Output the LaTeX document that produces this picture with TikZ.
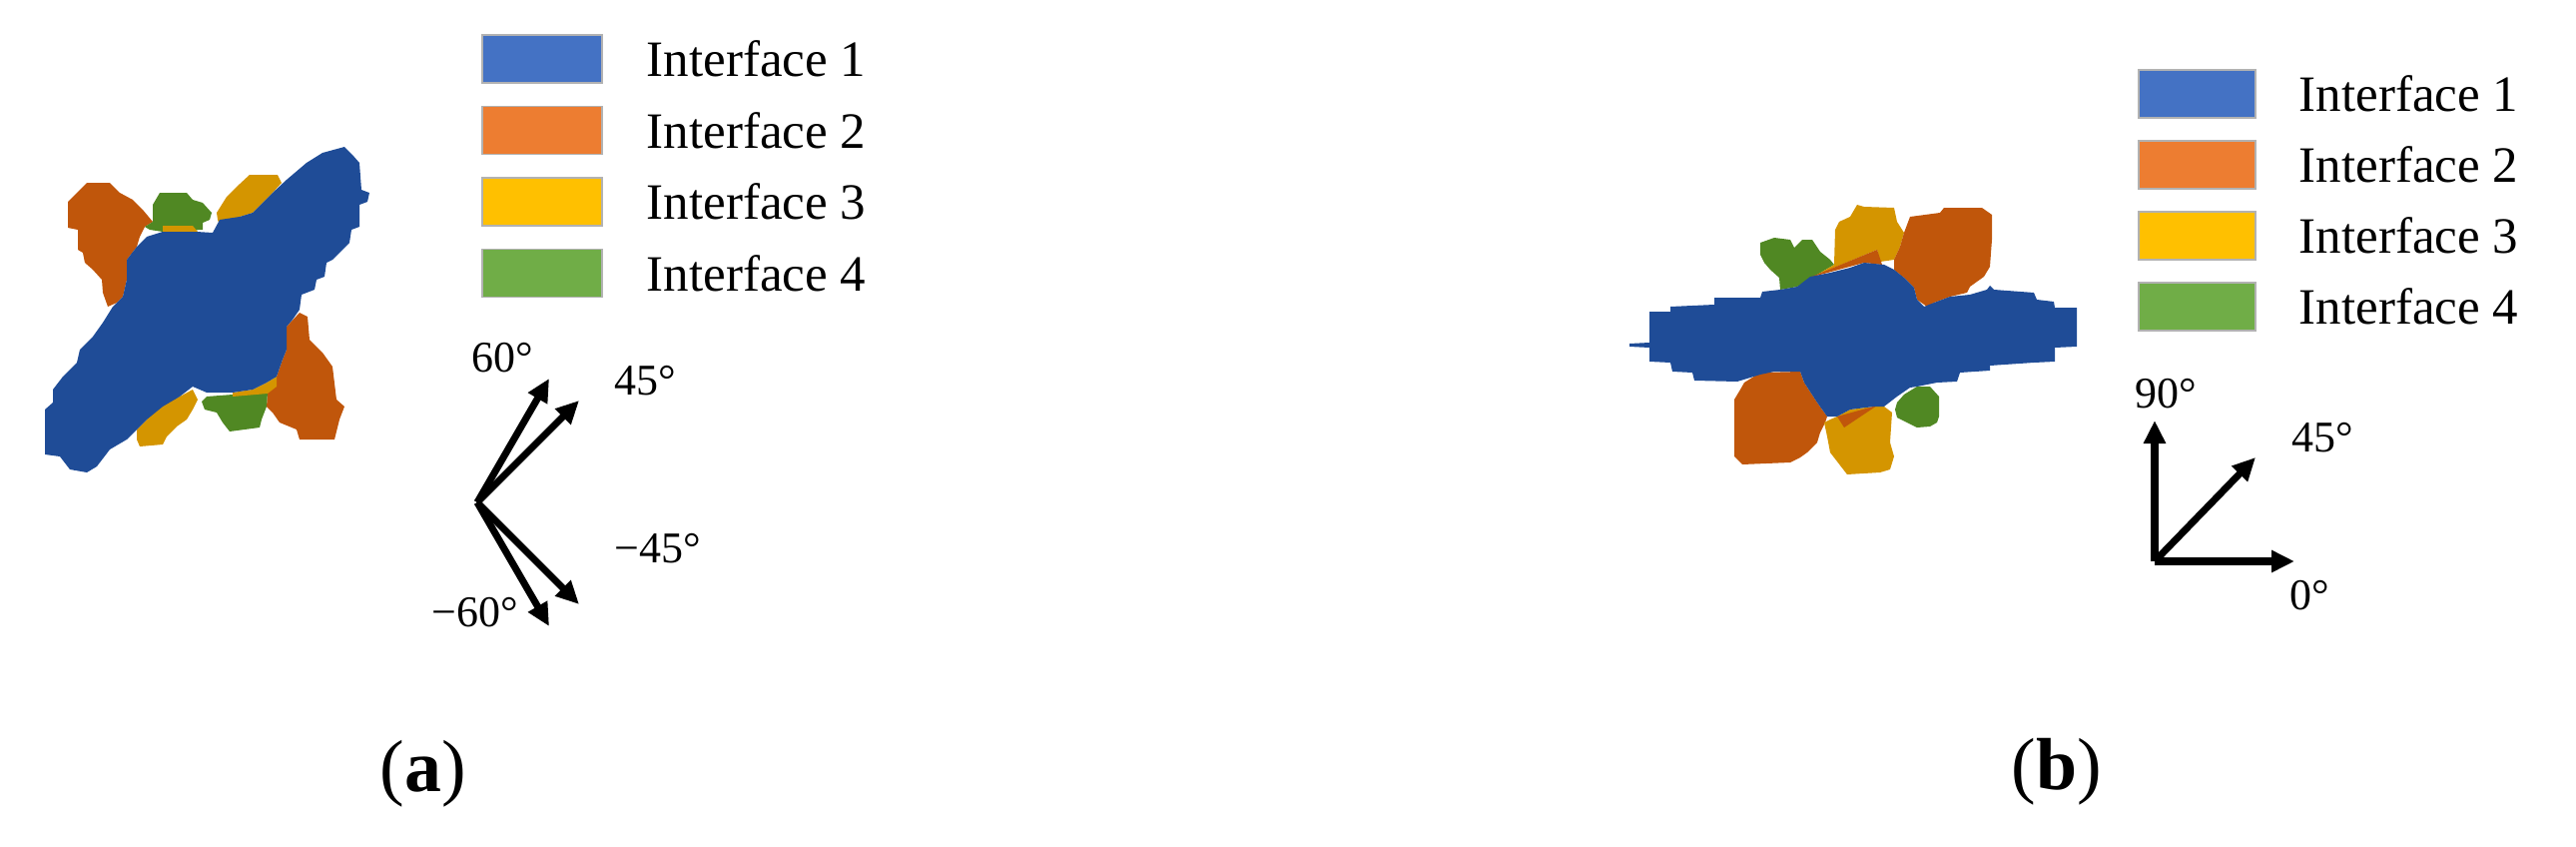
\documentclass[tikz,border=0pt]{standalone}
\usepackage{fontspec}
\setmainfont{Liberation Serif}
\usetikzlibrary{arrows.meta,positioning}

% Farben der Legende
\definecolor{legblue}{HTML}{4472C4}
\definecolor{legorange}{HTML}{ED7D31}
\definecolor{legyellow}{HTML}{FFC000}
\definecolor{leggreen}{HTML}{70AD47}
% Farben der Koerner
\definecolor{grblue}{HTML}{1F4C97}
\definecolor{grorange}{HTML}{C0560B}
\definecolor{gryellow}{HTML}{D49500}
\definecolor{grgreen}{HTML}{508823}

\begin{document}
\begin{tikzpicture}[x=0.01cm, y=-0.01cm,
        legbox/.style={draw=black!30, line width=0.4pt, minimum width=1.2cm,
            minimum height=0.48cm, inner sep=0pt, outer sep=0pt},
        legtext/.style={font=\fontsize{14.5}{17}\selectfont, inner sep=0pt, anchor=west},
        dirarrow/.style={line width=2pt, -{Triangle[length=0.23cm,width=0.21cm]}},
        deglabel/.style={font=\fontsize{12.5}{15}\selectfont, inner sep=0pt, anchor=base west},
        sublabel/.style={font=\fontsize{21}{25}\selectfont, inner sep=0pt, anchor=base},
        >=latex
        ]
            \useasboundingbox (0,0) rectangle (2580,848);

            % Gefuege (a)
            \fill[grorange] (68,202) -- (73,197) -- (87,183) -- (110,183) -- (120,193) -- (133,200)
                -- (143,210) -- (153,222) -- (145,227) -- (140,237) -- (137,247) -- (127,260)
                -- (127,280) -- (123,297) -- (117,303) -- (108,307) -- (103,293) -- (102,280)
                -- (93,270) -- (85,263) -- (83,253) -- (78,250) -- (78,230) -- (68,228) -- cycle;
            \fill[grorange] (287,327) -- (300,313) -- (308,317) -- (310,340) -- (323,353) -- (333,367)
                -- (337,400) -- (345,407) -- (340,420) -- (335,440) -- (300,440) -- (297,430)
                -- (280,423) -- (273,413) -- (267,407) -- (268,393) -- (277,377) -- (283,360)
                -- (287,350) -- cycle;
            \fill[grgreen] (153,205) -- (160,193) -- (187,193) -- (193,200) -- (203,203) -- (212,213)
                -- (210,220) -- (203,223) -- (203,230) -- (163,232) -- (150,230) -- (145,227)
                -- (153,222) -- cycle;
            \fill[gryellow] (163,226) -- (193,226) -- (198,232) -- (163,232) -- cycle;
            \fill[gryellow] (217,213) -- (227,197) -- (237,187) -- (250,175) -- (278,175) -- (282,183)
                -- (273,193) -- (253,213) -- (240,217) -- (230,227) -- (220,225) -- (218,220) -- cycle;
            \fill[grgreen] (202,402) -- (207,397) -- (233,395) -- (253,393) -- (268,393) -- (267,407)
                -- (262,420) -- (260,428) -- (230,432) -- (223,423) -- (217,413) -- (205,410) -- cycle;
            \fill[gryellow] (233,393) -- (253,390) -- (267,383) -- (277,377) -- (277,387) -- (268,394)
                -- (233,397) -- cycle;
            \fill[gryellow] (137,430) -- (147,420) -- (153,408) -- (163,405) -- (180,397) -- (193,390)
                -- (198,400) -- (193,410) -- (187,420) -- (177,427) -- (167,437) -- (163,445)
                -- (140,447) -- (137,440) -- cycle;
            \fill[grblue] (323,153) -- (345,147) -- (353,155) -- (360,163) -- (362,190) -- (370,193)
                -- (368,202) -- (360,205) -- (360,227) -- (352,230) -- (350,243) -- (333,260)
                -- (327,263) -- (325,277) -- (317,280) -- (315,290) -- (302,295) -- (300,310)
                -- (293,320) -- (287,327) -- (287,350) -- (283,360) -- (277,377) -- (267,383)
                -- (253,390) -- (233,393) -- (207,393) -- (193,387) -- (180,397) -- (163,407)
                -- (147,420) -- (137,430) -- (127,440) -- (110,450) -- (97,467) -- (87,473)
                -- (70,470) -- (60,457) -- (45,455) -- (45,410) -- (53,403) -- (53,390)
                -- (63,377) -- (77,363) -- (80,350) -- (93,337) -- (103,323) -- (113,307)
                -- (123,297) -- (127,280) -- (127,260) -- (137,247) -- (147,237) -- (163,232)
                -- (197,232) -- (213,233) -- (220,220) -- (240,217) -- (253,213) -- (273,193)
                -- (287,180) -- (307,163) -- cycle;

            % Legende (a)
            \node[legbox, fill=legblue, anchor=north west] (a1) at (483,35) {};
            \node[legbox, fill=legorange, below=0.235cm of a1] (a2) {};
            \node[legbox, fill=legyellow, below=0.235cm of a2] (a3) {};
            \node[legbox, fill=leggreen, below=0.235cm of a3] (a4) {};
            \node[legtext, right=0.44cm of a1] (ta1) {Interface 1};
            \node[legtext, right=0.44cm of a2] (ta2) {Interface 2};
            \node[legtext, right=0.44cm of a3] (ta3) {Interface 3};
            \node[legtext, right=0.44cm of a4] (ta4) {Interface 4};

            % Richtungen (a)
            \coordinate (oa) at (478,503);
            \coordinate (pa60) at (550,379);
            \coordinate (pa45) at (580,401);
            \coordinate (ma45) at (580,605);
            \coordinate (ma60) at (550,627);
            \draw[dirarrow] (oa) -- (pa60);
            \draw[dirarrow] (oa) -- (pa45);
            \draw[dirarrow] (oa) -- (ma45);
            \draw[dirarrow] (oa) -- (ma60);
            \node[deglabel] (la60) at (472,372) {60°};
            \node[deglabel] (la45) at (615,395) {45°};
            \node[deglabel] (lm45) at (615,563) {−45°};
            \node[deglabel] (lm60) at (432,627) {−60°};

            % Gefuege (b)
            \fill[grgreen] (1763,243) -- (1777,238) -- (1793,240) -- (1797,248) -- (1805,240) -- (1815,240)
                -- (1823,252) -- (1833,260) -- (1837,265) -- (1820,275) -- (1800,287) -- (1783,290)
                -- (1782,278) -- (1773,270) -- (1767,263) -- (1763,255) -- cycle;
            \fill[gryellow] (1837,265) -- (1838,230) -- (1842,222) -- (1853,217) -- (1860,205) -- (1867,207)
                -- (1897,208) -- (1900,222) -- (1907,233) -- (1903,247) -- (1897,260) -- (1883,262)
                -- (1880,250) -- (1820,275) -- cycle;
            \fill[grorange] (1812,278) -- (1880,250) -- (1885,265) -- (1867,263) -- cycle;
            \fill[grorange] (1907,233) -- (1913,217) -- (1943,213) -- (1947,208) -- (1985,208) -- (1995,215)
                -- (1995,240) -- (1993,267) -- (1987,277) -- (1973,287) -- (1970,293) -- (1953,297)
                -- (1937,303) -- (1930,307) -- (1920,300) -- (1917,288) -- (1907,278) -- (1897,270)
                -- (1897,260) -- (1903,247) -- cycle;
            \fill[grorange] (1737,400) -- (1743,390) -- (1747,383) -- (1763,373) -- (1803,372) -- (1807,383)
                -- (1820,403) -- (1830,417) -- (1828,423) -- (1823,433) -- (1820,443) -- (1810,453)
                -- (1803,458) -- (1793,463) -- (1745,465) -- (1737,457) -- cycle;
            \fill[gryellow] (1827,423) -- (1833,420) -- (1840,417) -- (1853,410) -- (1877,407) -- (1887,407)
                -- (1895,413) -- (1893,443) -- (1897,457) -- (1893,470) -- (1883,473) -- (1850,475)
                -- (1833,453) -- (1830,437) -- cycle;
            \fill[grorange] (1840,417) -- (1880,406) -- (1847,428) -- cycle;
            \fill[grgreen] (1900,403) -- (1907,395) -- (1920,387) -- (1933,387) -- (1942,397) -- (1942,417)
                -- (1940,423) -- (1933,427) -- (1920,428) -- (1910,423) -- (1900,418) -- (1898,410) -- cycle;
            \fill[grblue] (1652,312) -- (1673,312) -- (1673,307) -- (1717,305) -- (1717,298) -- (1763,298)
                -- (1765,292) -- (1783,290) -- (1800,287) -- (1813,277) -- (1833,273) -- (1853,268)
                -- (1867,263) -- (1887,265) -- (1897,270) -- (1907,278) -- (1917,288) -- (1920,300)
                -- (1927,307) -- (1937,303) -- (1953,297) -- (1973,295) -- (1990,290) -- (1993,286)
                -- (1997,290) -- (2037,293) -- (2040,300) -- (2057,302) -- (2058,308) -- (2080,308)
                -- (2080,347) -- (2058,348) -- (2058,362) -- (2037,363) -- (1993,366) -- (1993,371)
                -- (1963,373) -- (1960,382) -- (1940,383) -- (1920,387) -- (1913,388) -- (1900,397)
                -- (1887,407) -- (1877,407) -- (1853,410) -- (1840,417) -- (1830,417) -- (1820,403)
                -- (1807,383) -- (1803,372) -- (1777,372) -- (1763,375) -- (1740,382) -- (1697,381)
                -- (1695,373) -- (1675,372) -- (1673,363) -- (1652,362) -- (1652,348) -- (1632,347)
                -- (1632,344) -- (1652,343) -- cycle;

            % Legende (b)
            \node[legbox, fill=legblue, minimum width=1.17cm, anchor=north west] (b1) at (2142,70) {};
            \node[legbox, fill=legorange, minimum width=1.17cm, below=0.23cm of b1] (b2) {};
            \node[legbox, fill=legyellow, minimum width=1.17cm, below=0.23cm of b2] (b3) {};
            \node[legbox, fill=leggreen, minimum width=1.17cm, below=0.23cm of b3] (b4) {};
            \node[legtext, right=0.43cm of b1] (tb1) {Interface 1};
            \node[legtext, right=0.43cm of b2] (tb2) {Interface 2};
            \node[legtext, right=0.43cm of b3] (tb3) {Interface 3};
            \node[legtext, right=0.43cm of b4] (tb4) {Interface 4};

            % Richtungen (b)
            \coordinate (ob) at (2158,562);
            \coordinate (pb90) at (2158,421);
            \coordinate (pb45) at (2259,458);
            \coordinate (pb0) at (2298,562);
            \draw[dirarrow] (ob) -- (pb90);
            \draw[dirarrow] (ob) -- (pb45);
            \draw[dirarrow] (ob) -- (pb0);
            \node[deglabel] (lb90) at (2138,408) {90°};
            \node[deglabel] (lb45) at (2295,452) {45°};
            \node[deglabel] (lb0) at (2293,610) {0°};

            % Teilbilder
            \node[sublabel] (capa) at (424,792) {(\textbf{a})};
            \node[sublabel] (capb) at (2060,790) {(\textbf{b})};

        \end{tikzpicture}
\end{document}
